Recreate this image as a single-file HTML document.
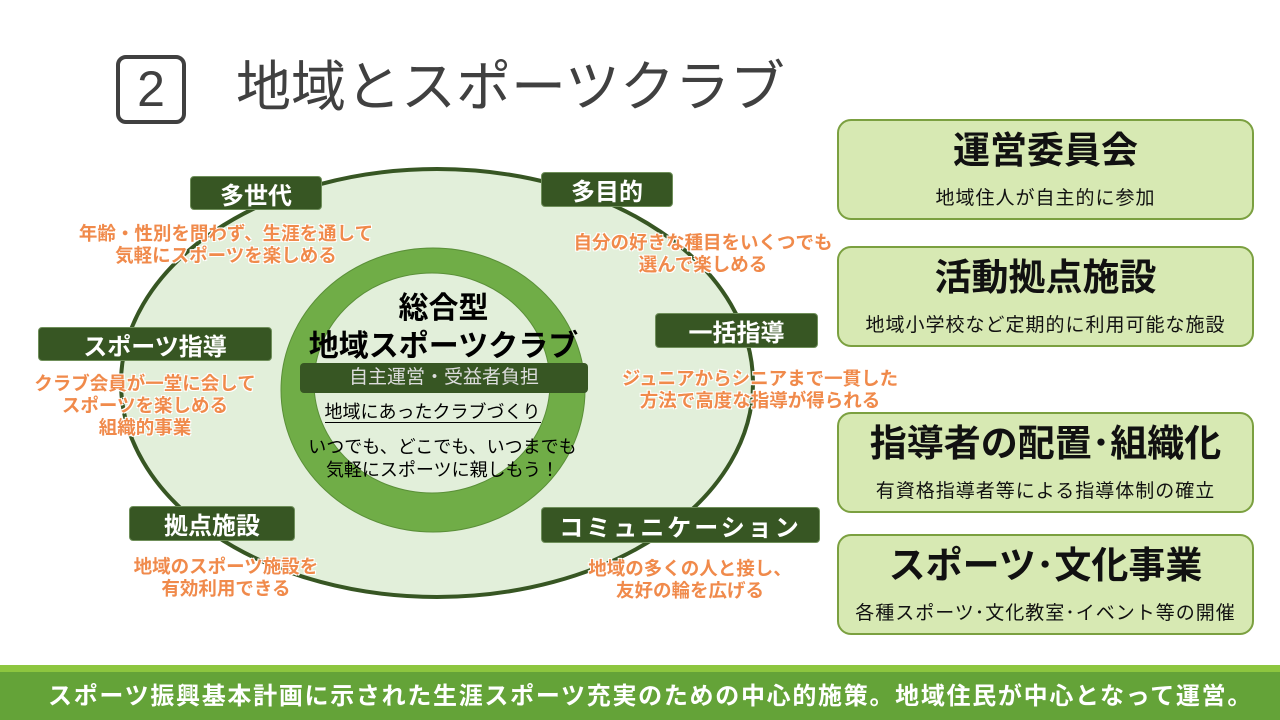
<!DOCTYPE html>
<html><head><meta charset="utf-8"><style>
*{margin:0;padding:0;box-sizing:border-box}
body{width:1280px;height:720px;position:relative;background:#fff;overflow:hidden;font-family:"Liberation Sans","Noto Sans CJK JP",sans-serif}
.a{position:absolute;white-space:nowrap}
.lab{position:absolute;background:#375623;color:#fff;font-weight:bold;font-size:24px;border-radius:4px;display:flex;align-items:center;justify-content:center;border:1px solid #6f8f5a}
.or{position:absolute;color:#f08a4b;font-weight:bold;font-size:18.5px;text-align:center;line-height:22px;text-shadow:-1px -1px 0 #fff,1px -1px 0 #fff,-1px 1px 0 #fff,1px 1px 0 #fff;white-space:nowrap}
.rb{position:absolute;left:837px;width:417px;height:101px;background:#d7e9b3;border:2px solid #7ba040;border-radius:14px;text-align:center}
.rb .t{font-weight:bold;font-size:37px;line-height:38px;margin-top:11px;color:#111}
.rb .s{font-size:19px;margin-top:13px;color:#111;letter-spacing:1px}
</style></head><body>
<div class="a" style="left:116px;top:55px;width:70px;height:69px;border:4px solid #404040;border-radius:10px;font-size:50px;line-height:60px;text-align:center;color:#404040">2</div>
<div class="a" style="left:236px;top:52px;font-size:55px;line-height:70px;color:#404040">地域とスポーツクラブ</div>
<svg class="a" style="left:0;top:0" width="800" height="660">
<ellipse cx="437" cy="383" rx="316" ry="214" fill="#e2efda" stroke="#375623" stroke-width="4"/>
<ellipse cx="433" cy="390" rx="152" ry="142" fill="#70ad47" stroke="#5a8f38" stroke-width="1"/>
<ellipse cx="432" cy="383" rx="118" ry="110" fill="#e2efda" stroke="#5a8f38" stroke-width="1"/>
</svg>
<div class="a" style="left:0;width:887px;top:290px;text-align:center;font-weight:bold;font-size:30px;line-height:38px">総合型<br>地域スポーツクラブ</div>
<div class="a" style="left:300px;top:363px;width:288px;height:30px;background:#375623;border-radius:4px;color:#ddd;font-size:19px;line-height:30px;text-align:center">自主運営・受益者負担</div>
<div class="a" style="left:0;width:865px;top:400px;text-align:center;font-size:18px;line-height:24px"><span style="border-bottom:1.5px solid #000">地域にあったクラブづくり</span></div>
<div class="a" style="left:0;width:885px;top:436px;text-align:center;font-size:18px;line-height:23px">いつでも、どこでも、いつまでも<br>気軽にスポーツに親しもう！</div>
<div class="lab" style="left:190px;top:176px;width:132px;height:34px">多世代</div>
<div class="lab" style="left:541px;top:172px;width:132px;height:35px">多目的</div>
<div class="lab" style="left:38px;top:327px;width:234px;height:34px">スポーツ指導</div>
<div class="lab" style="left:655px;top:313px;width:163px;height:35px">一括指導</div>
<div class="lab" style="left:129px;top:506px;width:166px;height:35px">拠点施設</div>
<div class="lab" style="left:541px;top:507px;width:279px;height:36px;letter-spacing:3px">コミュニケーション</div>
<div class="or" style="left:0;width:452px;top:223px">年齢・性別を問わず、生涯を通して<br>気軽にスポーツを楽しめる</div>
<div class="or" style="left:543px;width:320px;top:232px">自分の好きな種目をいくつでも<br>選んで楽しめる</div>
<div class="or" style="left:0;width:290px;top:373px">クラブ会員が一堂に会して<br>スポーツを楽しめる<br>組織的事業</div>
<div class="or" style="left:590px;width:340px;top:368px">ジュニアからシニアまで一貫した<br>方法で高度な指導が得られる</div>
<div class="or" style="left:100px;width:252px;top:556px">地域のスポーツ施設を<br>有効利用できる</div>
<div class="or" style="left:550px;width:280px;top:558px">地域の多くの人と接し、<br>友好の輪を広げる</div>
<div class="rb" style="top:119px"><div class="t">運営委員会</div><div class="s">地域住人が自主的に参加</div></div>
<div class="rb" style="top:246px"><div class="t">活動拠点施設</div><div class="s">地域小学校など定期的に利用可能な施設</div></div>
<div class="rb" style="top:412px"><div class="t">指導者の配置･組織化</div><div class="s">有資格指導者等による指導体制の確立</div></div>
<div class="rb" style="top:534px"><div class="t">スポーツ･文化事業</div><div class="s">各種スポーツ･文化教室･イベント等の開催</div></div>
<div class="a" style="left:0;top:665px;width:1280px;height:7px;background:#8dc63f"></div>
<div class="a" style="left:0;top:672px;width:1280px;height:48px;background:#64a338"></div>
<div class="a" style="left:48px;top:682px;color:#fff;font-weight:bold;font-size:24px;line-height:30px;letter-spacing:1.7px">スポーツ振興基本計画に示された生涯スポーツ充実のための中心的施策。地域住民が中心となって運営。</div>
</body></html>
